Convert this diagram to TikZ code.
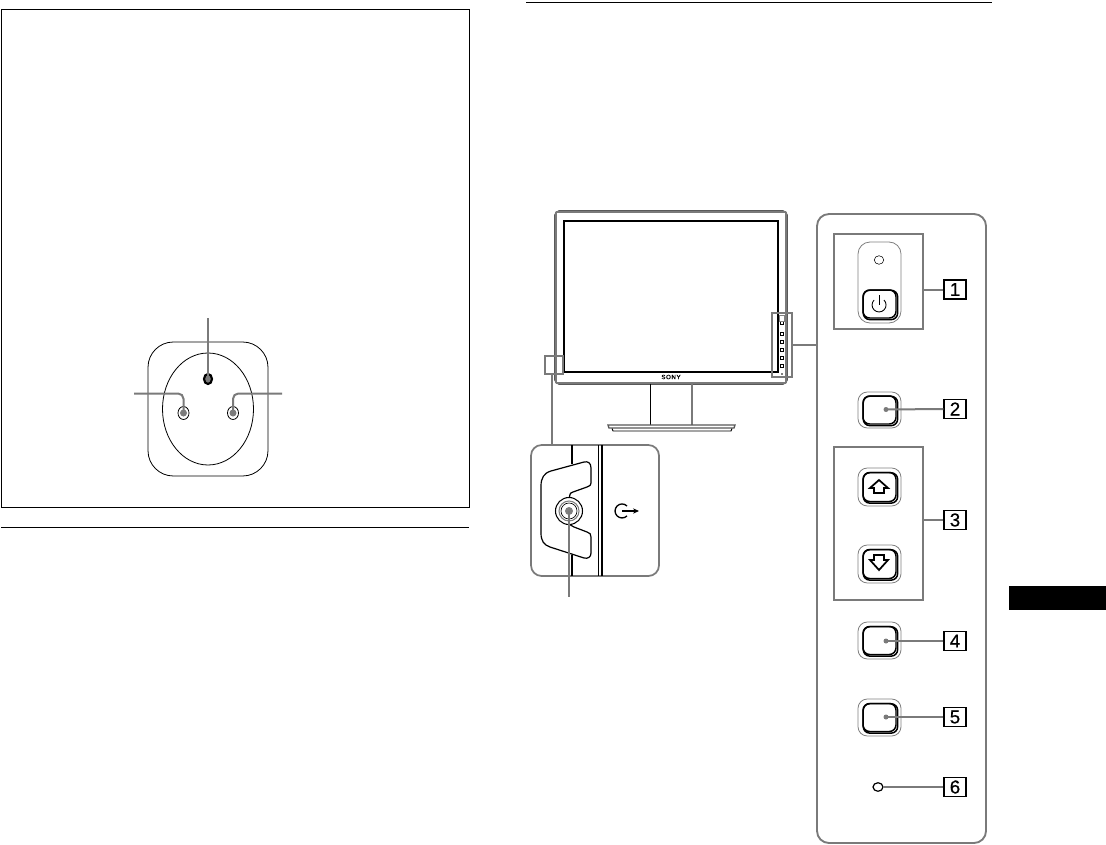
\documentclass[tikz,border=0pt]{standalone}
\usepackage{fontspec}
\setmainfont{Liberation Sans}
\newfontfamily\sonyfont[LetterSpace=10,FakeBold=1.2]{Liberation Sans}
\newfontfamily\labfont[FakeBold=0.6]{Liberation Sans}
\usetikzlibrary{fit,shapes.geometric,calc,arrows.meta}
\def\px{0.75pt}
\definecolor{callgray}{HTML}{7A7A7A}
\definecolor{softgray}{HTML}{808080}
\tikzset{
  thinblk/.style={draw=black,line width=0.6pt},
  gbox/.style={fit={#1},inner sep=0pt,draw=callgray,line width=1.4pt},
  conn/.style={draw=callgray,line width=1.5pt},
  soft/.style={draw=softgray,line width=0.6pt,rounded corners=7pt},
  btnin/.style={draw=black,line width=1.1pt,rounded corners=5pt},
  lab/.style={draw=black,line width=0.8pt,minimum width=22*\px,minimum height=19*\px,inner sep=0pt,font=\labfont\fontsize{14}{14}\selectfont,text=black},
  hole/.style={ellipse,inner sep=0pt,draw=black,line width=0.6pt,fill=white},
  dotnode/.style={circle,fill=callgray,inner sep=0pt,minimum size=5*\px},
}
\newcommand{\pushbtn}[4]{% name, cy, half outer height, half inner height
  \node[fit={(858,#2-#3)(901,#2+#3)},inner sep=0pt,soft] (#1out) {};
  \node[fit={(863,#2-#4)(896,#2+#4)},inner sep=0pt,btnin] (#1) {};
  \draw[btnin] ([xshift=0.7pt,yshift=-0.7pt]#1.north west) rectangle ([xshift=0.7pt,yshift=-0.7pt]#1.south east);
}
\begin{document}
\begin{tikzpicture}[x=0.75pt,y=-0.75pt]
\useasboundingbox (0,0) rectangle (1106,845);
\fill[white] (0,0) rectangle (1106,845);

% left page
\node[fit={(1,9)(469,507)},inner sep=0pt,draw=black,line width=0.7pt] (framebox) {};
\coordinate (ruleAa) at (1,527); \coordinate (ruleAb) at (469,527);
\draw[black,line width=0.7pt] (ruleAa) -- (ruleAb);
\coordinate (ruleBa) at (526,2); \coordinate (ruleBb) at (992,2);
\draw[black,line width=0.7pt] (ruleBa) -- (ruleBb);
\node[fit={(1009,586)(1106,610)},inner sep=0pt,fill=black] (tab) {};

% socket
\node[fit={(148,342)(268,476)},inner sep=0pt,thinblk,rounded corners=19pt] (plate) {};
\node[ellipse,inner sep=0pt,thinblk,minimum width=91*\px,minimum height=112*\px] (face) at (208,409) {};
\node[ellipse,inner sep=0pt,draw=black,fill=callgray,line width=1.6pt,minimum width=8*\px,minimum height=10*\px] (pin) at (208,379) {};
\node[hole,minimum width=11*\px,minimum height=13*\px] (holeL) at (183.5,413) {};
\node[hole,minimum width=11*\px,minimum height=13*\px] (holeR) at (233,413) {};
\node[dotnode,minimum size=7*\px] (dotL) at (183.5,413) {};
\node[dotnode,minimum size=7*\px] (dotR) at (233,413) {};
\coordinate (pinTop) at (208,318);
\coordinate (sockL) at (134,393.5);
\coordinate (sockR) at (282,393.5);
\draw[conn] (pinTop) -- (pin.center);
\draw[conn,rounded corners=4pt] (sockL) -| (dotL.center);
\draw[conn,rounded corners=4pt] (sockR) -| (dotR.center);

% monitor
\node[fit={(555,211)(787,384)},inner sep=0pt,draw=black,line width=0.9pt,rounded corners=3pt] (bezel) {};
\draw[draw=callgray,line width=1.9pt] ([xshift=-1.2pt,yshift=-1pt]bezel.north east) -- ([xshift=-1.2pt,yshift=1pt]bezel.south east);
\draw[draw=callgray,line width=1.1pt] ([xshift=1pt,yshift=-1.1pt]bezel.north west) -- ([xshift=-1pt,yshift=-1.1pt]bezel.north east);
\draw[draw=callgray,line width=1.1pt] ([xshift=1.1pt,yshift=-1pt]bezel.north west) -- ([xshift=1.1pt,yshift=1pt]bezel.south west);
\draw[draw=callgray,line width=1.1pt] ([xshift=1pt,yshift=1.1pt]bezel.south west) -- ([xshift=-1pt,yshift=1.1pt]bezel.south east);
\node[fit={(564,221)(778,372)},inner sep=0pt,draw=black,line width=0.8pt] (screen) {};
\node[font=\sonyfont\fontsize{4.6}{5}\selectfont] (sony) at (671,377) {SONY};
\coordinate (neckLa) at (650,384); \coordinate (neckLb) at (650,425);
\coordinate (neckRa) at (692,384); \coordinate (neckRb) at (692,425);
\draw[black,line width=0.7pt] (neckLa) -- (neckLb);
\draw[callgray,line width=0.9pt] (neckRa) -- (neckRb);
\coordinate (baseA) at (608,425); \coordinate (baseB) at (735,425);
\draw[draw=black!65,line width=1pt,fill=white] (baseA) -- (baseB) -- (734,428) -- (609,428) -- cycle;
\draw[black,line width=0.7pt] (612,428.5) -- (613,431) -- (731,431) -- (732,428.5);
% miniature controls on the monitor
\foreach \yy/\nn in {323/a,334/b,342/c,350/d,358/e,366/f}{
  \node[draw=black,line width=0.7pt,inner sep=0pt,minimum size=3*\px] (mini\nn) at (782,\yy) {};
}
\node[draw=softgray,line width=0.4pt,inner sep=0pt,minimum width=5*\px,minimum height=6*\px] (minitop) at (782,318) {};
\node[fill=softgray,inner sep=0pt,minimum size=1.5*\px] (minidot) at (782,374) {};
\node[gbox={(545,356)(563,374)}] (frameL) {};
\node[gbox={(772,313)(792,377)}] (frameR) {};

% jack callout
\node[fit={(531,445)(659,576)},inner sep=0pt,draw=callgray,line width=1.3pt,rounded corners=8pt] (jackpanel) {};
\coordinate (leadTop) at (551.5,374);
\coordinate (leadBot) at (551.5,445);
\draw[conn] (leadTop) -- (leadBot);
\coordinate (ja) at (572,445); \coordinate (jb) at (572,464);
\coordinate (jc) at (572,555); \coordinate (jd) at (572,576);
\draw[black,line width=0.8pt] (ja) -- (jb) (jc) -- (jd);
\coordinate (da) at (598,445); \coordinate (db) at (598,576);
\coordinate (dc) at (602,445); \coordinate (dd) at (602,576);
\draw[black,line width=0.6pt] (da) -- (db);
\draw[black,line width=1.1pt] (dc) -- (dd);
\draw[black,line width=0.9pt] (569.5,497) .. controls (570,493) and (571,492.5) .. (573,492)
  -- (587,487) .. controls (590,486) and (591,485) .. (591,483)
  -- (591,468) .. controls (591,463) and (588,461) .. (584,462)
  -- (551,471) .. controls (544,473) and (541,478) .. (541,486)
  -- (541,533) .. controls (541,541) and (544,545) .. (550,547)
  -- (584,558) .. controls (588,559) and (591,557) .. (591,553)
  -- (591,537) .. controls (591,534) and (590,533) .. (587,532)
  -- (574,527) .. controls (571,526) and (570,525) .. (569.5,522);
\node[circle,draw=black,fill=white,line width=0.8pt,inner sep=0pt,minimum size=27*\px] (jackout) at (569,511) {};
\node[circle,draw=softgray,line width=0.8pt,inner sep=0pt,minimum size=20*\px] (jackmid) at (569,511) {};
\node[circle,draw=black,line width=0.5pt,inner sep=0pt,minimum size=16*\px] (jackin) at (569,511) {};
\node[circle,fill=softgray,inner sep=0pt,minimum size=8*\px] (jack) at (569,511) {};
\coordinate (jackEnd) at (569,597);
\draw[conn] (jack.center) -- (jackEnd);
\coordinate (hp) at (622,511);
\coordinate (hpt) at (639,511);
\draw[black,line width=1pt] (627,506) arc[start angle=45,end angle=315,radius=7*\px];
\draw[black,line width=0.9pt,-{Stealth[length=4.5pt,width=4pt]}] (hp) -- (hpt);

% control panel
\node[fit={(817,214)(986,843)},inner sep=0pt,draw=callgray,line width=1.4pt,rounded corners=9pt] (panel) {};
\draw[conn] (frameR.east) -- (frameR.east -| panel.west);

\node[gbox={(834,234)(923,329)}] (box1) {};
\node[gbox={(834,447)(923,600)}] (box3) {};

\node[fit={(858,242)(901,323)},inner sep=0pt,soft,rounded corners=9pt] (capsule) {};
\node[ellipse,draw=black,line width=0.4pt,inner sep=0pt,minimum width=9.5*\px,minimum height=8.5*\px] (led1) at (879,260) {};
\node[fit={(863,290)(896,318)},inner sep=0pt,btnin] (btn1) {};
\draw[btnin] ([xshift=0.7pt,yshift=-0.7pt]btn1.north west) rectangle ([xshift=0.7pt,yshift=-0.7pt]btn1.south east);
\coordinate (pw) at (879,305);
\draw[black,line width=0.65pt] (884,300) arc[start angle=45,end angle=-225,radius=7*\px];
\draw[black,line width=0.65pt] (879,295) -- (pw);

\pushbtn{btn2}{410}{18}{14}
\pushbtn{btnU}{487}{19}{14.5}
\pushbtn{btnD}{564}{19}{14.5}
\pushbtn{btn4}{640.5}{18.5}{14}
\pushbtn{btn5}{717.5}{18.5}{14}

\draw[black,line width=1.3pt,line join=miter] (879,480) -- (888,488) -- (884,488) -- (884,493) -- (874,493) -- (874,488) -- (870,488) -- cycle;
\draw[black,line width=1.3pt,line join=miter] (879,570) -- (888,560) -- (884,560) -- (884,555) -- (874,555) -- (874,560) -- (870,560) -- cycle;

\node[ellipse,draw=black,line width=0.9pt,inner sep=0pt,minimum width=10*\px,minimum height=8.5*\px] (led6) at (878,787) {};

\node[dotnode] (d2) at (886,409.5) {};
\node[dotnode] (d4) at (886,641) {};
\node[dotnode] (d5) at (886,717) {};

\node[lab] (l1) at (955,289.5) {1};
\node[lab] (l2) at (955,409) {2};
\node[lab] (l3) at (955,520) {3};
\node[lab] (l4) at (955,641) {4};
\node[lab] (l5) at (955,717) {5};
\node[lab] (l6) at (955,787) {6};

\draw[conn] (l1.west) -- (l1.west -| box1.east);
\draw[conn] (l2.west) -- (d2.center);
\draw[conn] (l3.west) -- (l3.west -| box3.east);
\draw[conn] (l4.west) -- (d4.center);
\draw[conn] (l5.west) -- (d5.center);
\draw[conn] (l6.west) -- (led6.east);
\end{tikzpicture}
\end{document}
